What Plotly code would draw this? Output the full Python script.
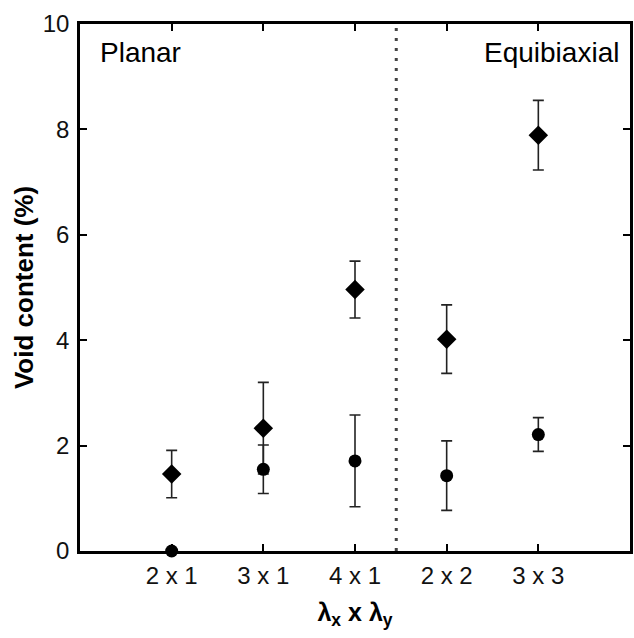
import plotly.graph_objects as go

categories = ["2 x 1", "3 x 1", "4 x 1", "2 x 2", "3 x 3"]
cat_pos = [1, 2, 3, 4, 5]
diamond_vals = [1.46, 2.33, 4.96, 4.02, 7.89]
diamond_err = [0.45, 0.87, 0.54, 0.65, 0.66]
circle_vals = [0.0, 1.55, 1.71, 1.43, 2.21]
circle_err = [0.0, 0.46, 0.87, 0.66, 0.32]
y_ticks = [0, 2, 4, 6, 8, 10]
divider_x = 3.45

FONT = "Liberation Sans, Arial, sans-serif"

fig = go.Figure()
fig.add_trace(go.Scatter(
    x=cat_pos, y=diamond_vals, mode="markers", name="diamond",
    marker=dict(symbol="diamond", size=15, color="black"),
    error_y=dict(type="data", array=diamond_err, visible=True,
                 color="#222222", thickness=1.6, width=5.5),
    showlegend=False))
fig.add_trace(go.Scatter(
    x=cat_pos, y=circle_vals, mode="markers", name="circle",
    marker=dict(symbol="circle", size=13, color="black"),
    error_y=dict(type="data", array=circle_err, visible=True,
                 color="#222222", thickness=1.6, width=5.5),
    showlegend=False, cliponaxis=False))

fig.add_shape(type="line", xref="x", yref="y", x0=divider_x, x1=divider_x,
              y0=0, y1=10, line=dict(color="#444444", width=3, dash="3px,7px"))

fig.add_annotation(text="Planar", xref="paper", yref="paper", x=0.032, y=0.945,
                   xanchor="left", yanchor="middle", showarrow=False,
                   font=dict(family=FONT, size=28, color="black"))
fig.add_annotation(text="Equibiaxial", xref="paper", yref="paper", x=0.984, y=0.945,
                   xanchor="right", yanchor="middle", showarrow=False,
                   font=dict(family=FONT, size=28, color="black"))

axis_common = dict(showline=True, linecolor="black", linewidth=2.5, mirror="ticks",
                   ticks="inside", ticklen=7, tickwidth=2, tickcolor="black",
                   showgrid=False, zeroline=False,
                   tickfont=dict(family=FONT, size=24, color="#111111"))

fig.update_xaxes(range=[0, 6], tickmode="array", tickvals=cat_pos, ticktext=categories,
                 ticklabelstandoff=1,
                 title=dict(text="<b>λ<sub>x</sub> x λ<sub>y</sub></b>", standoff=16,
                            font=dict(family=FONT, size=25, color="black")),
                 **axis_common)
fig.update_yaxes(range=[0, 10], tickmode="array", tickvals=y_ticks,
                 ticklabelstandoff=3,
                 title=dict(text="<b>Void content (%)</b>", standoff=2,
                            font=dict(family=FONT, size=26, color="black")),
                 **axis_common)

fig.update_layout(width=634, height=638, margin=dict(l=80, r=1, t=24, b=87),
                  plot_bgcolor="white", paper_bgcolor="white")

fig.write_html("out.html")
